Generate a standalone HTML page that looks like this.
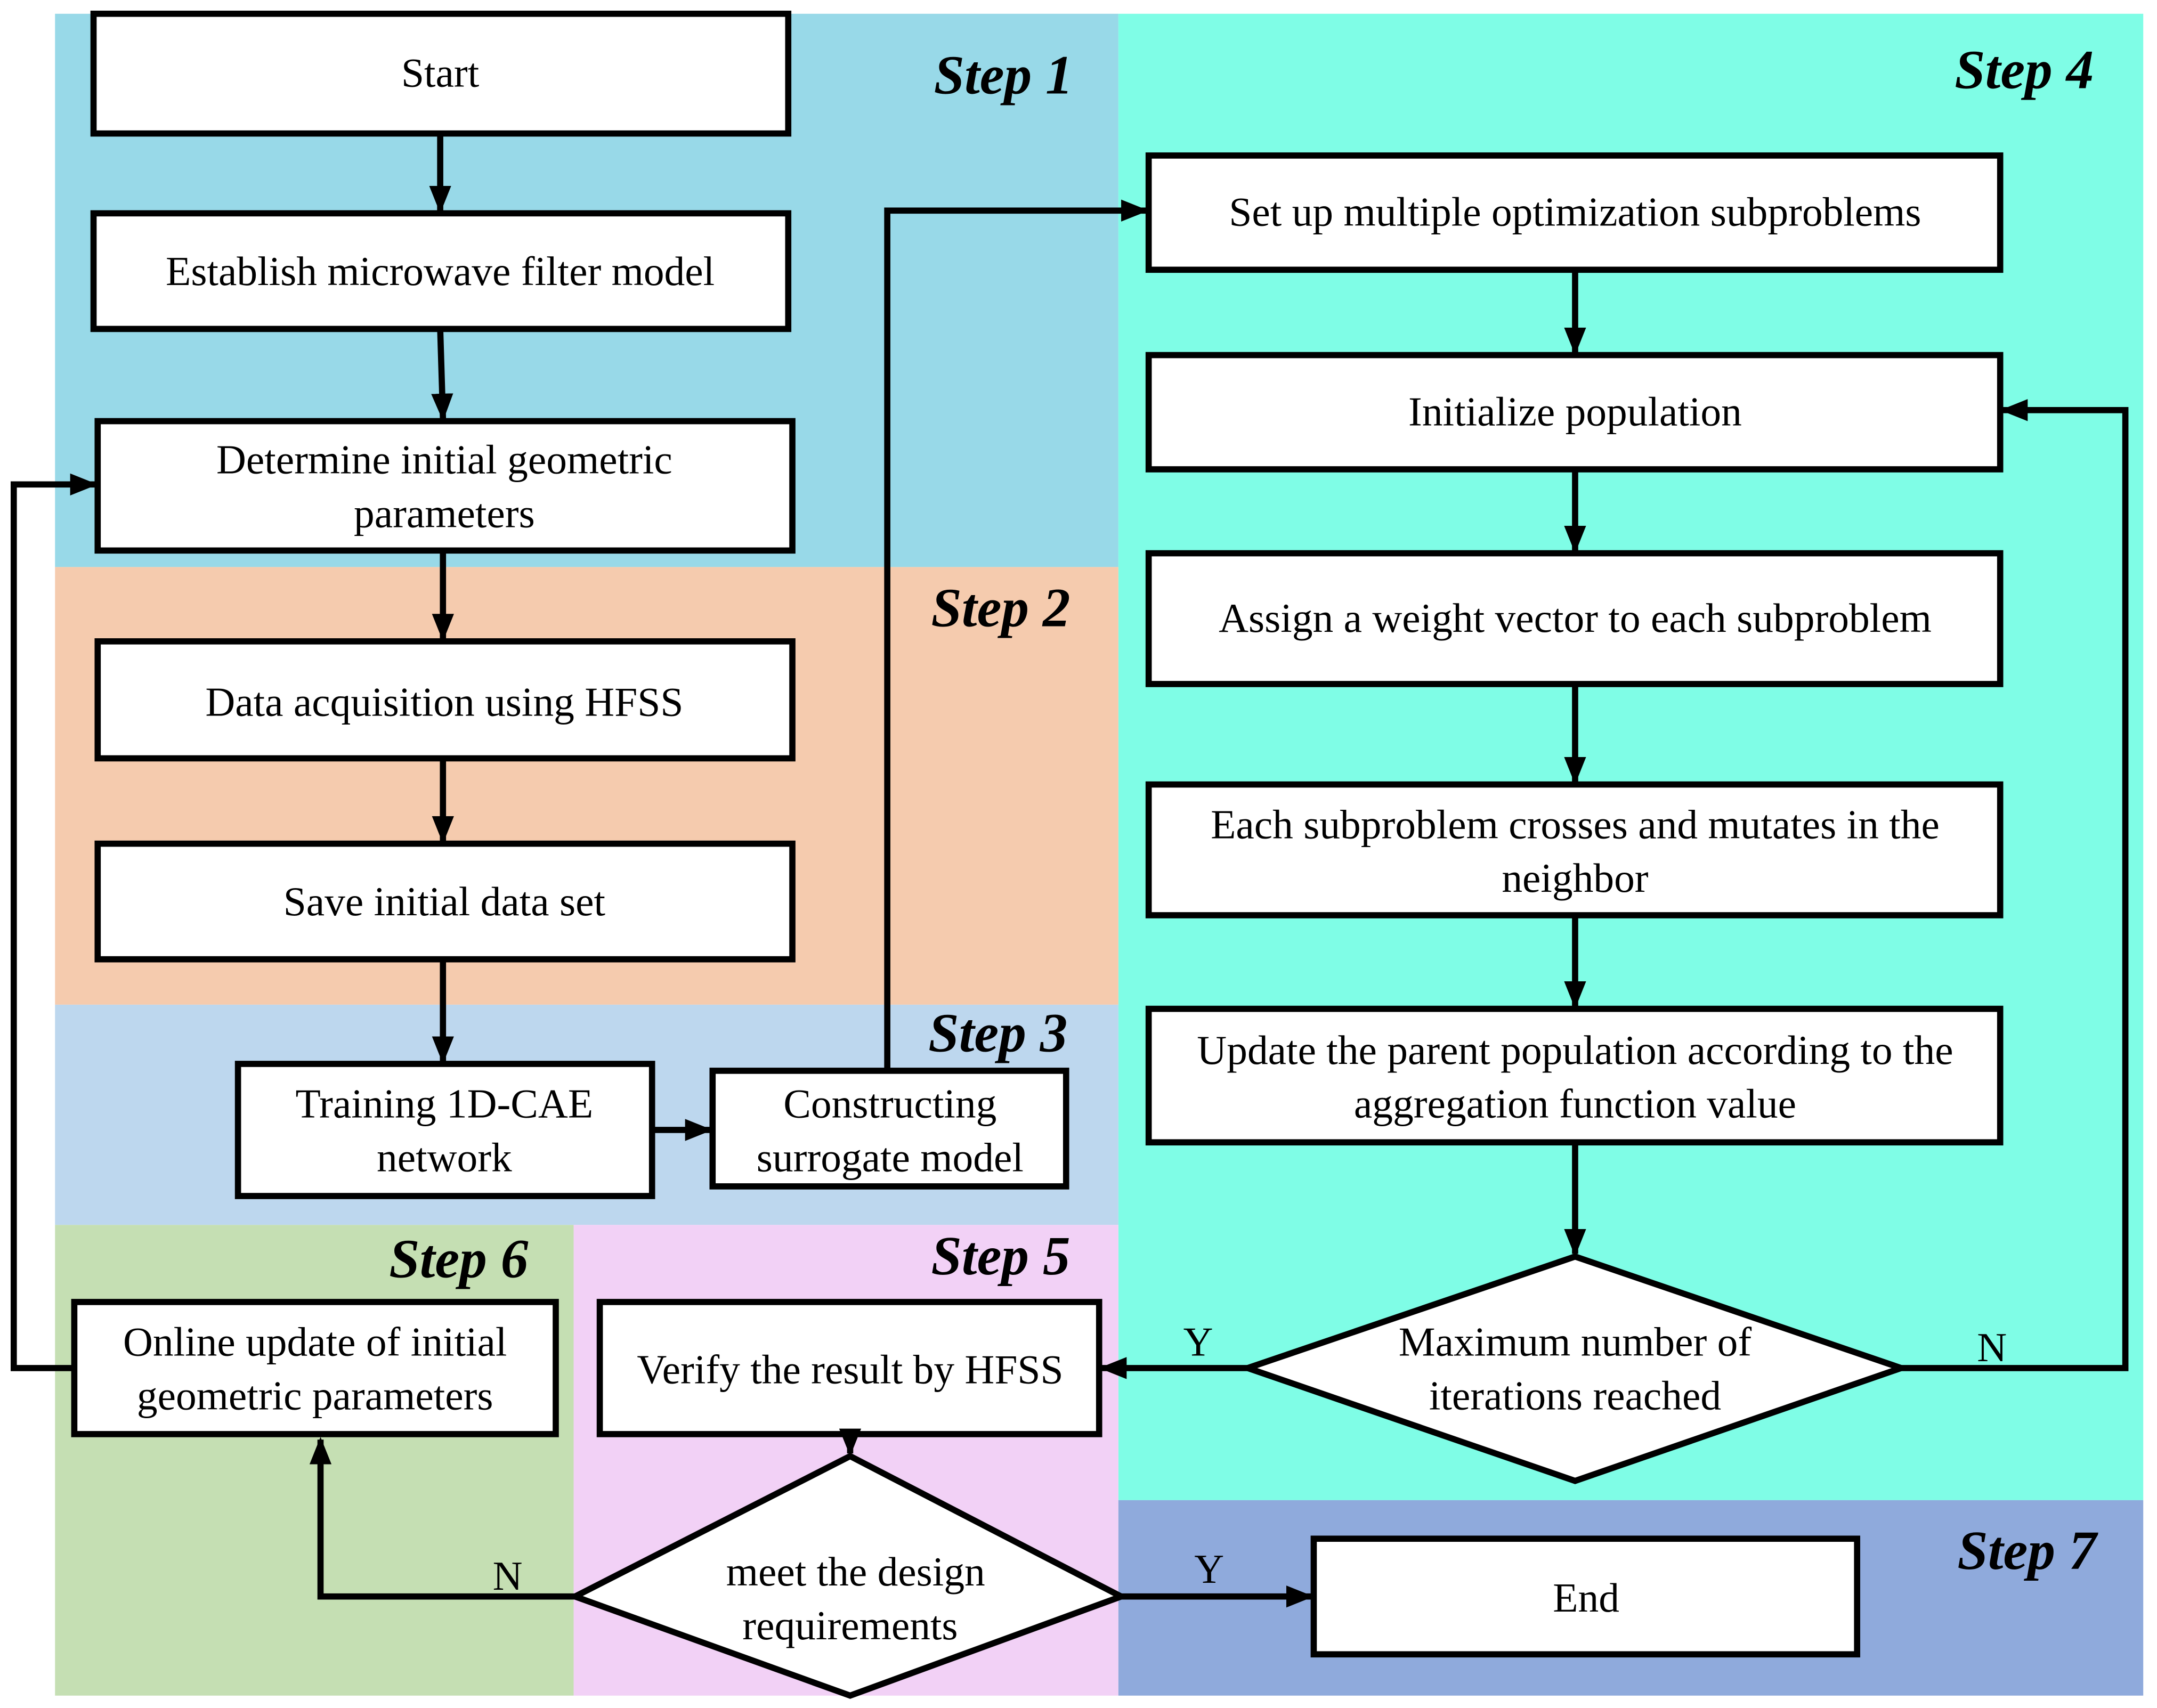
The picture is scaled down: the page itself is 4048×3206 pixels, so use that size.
<!DOCTYPE html>
<html><head><style>html,body{margin:0;padding:0;background:#fff}svg{display:block}text{font-family:"Liberation Serif","Times New Roman",serif}</style></head><body>
<svg xmlns="http://www.w3.org/2000/svg" width="4048" height="3206" viewBox="0 0 1568 1241" preserveAspectRatio="none">
<defs><marker id="a" viewBox="0 0 20 16" refX="18" refY="8" markerWidth="20" markerHeight="16" orient="auto" markerUnits="userSpaceOnUse"><path d="M0,0 L20,8 L0,16 Z" fill="#000"/></marker></defs>
<rect x="40" y="10" width="773" height="402" fill="#98d9e8"/>
<rect x="813" y="10" width="745" height="1080" fill="#7ffde6"/>
<rect x="40" y="412" width="773" height="318" fill="#f5cbae"/>
<rect x="40" y="730" width="773" height="160" fill="#bdd7ee"/>
<rect x="40" y="890" width="377" height="342" fill="#c5dfb3"/>
<rect x="417" y="890" width="396" height="342" fill="#f2d1f6"/>
<rect x="813" y="1090" width="745" height="142" fill="#8faadc"/>
<g font-weight="bold" font-style="italic" font-size="40">
<text x="780" y="68" text-anchor="end">Step 1</text>
<text x="1522" y="64" text-anchor="end">Step 4</text>
<text x="778" y="455" text-anchor="end">Step 2</text>
<text x="776" y="764" text-anchor="end">Step 3</text>
<text x="384" y="928" text-anchor="end">Step 6</text>
<text x="778" y="926" text-anchor="end">Step 5</text>
<text x="1524" y="1140" text-anchor="end">Step 7</text>
</g>
<g fill="#fff" stroke="#000" stroke-width="4.5">
<rect x="68" y="10" width="505" height="87"/>
<rect x="68" y="155" width="505" height="84"/>
<rect x="71" y="306" width="505" height="94"/>
<rect x="71" y="466" width="505" height="85"/>
<rect x="71" y="613" width="505" height="84"/>
<rect x="173" y="773" width="301" height="96"/>
<rect x="518" y="778" width="257" height="84"/>
<rect x="54" y="946" width="350" height="96"/>
<rect x="436" y="946" width="363" height="96"/>
<rect x="835" y="113" width="619" height="83"/>
<rect x="835" y="258" width="619" height="83"/>
<rect x="835" y="402" width="619" height="95"/>
<rect x="835" y="570" width="619" height="95"/>
<rect x="835" y="733" width="619" height="97"/>
<rect x="955" y="1118" width="395" height="84"/>
<polygon points="907,994 1145,913 1382,994 1145,1076"/>
<polygon points="418,1160 618,1058 815,1160 618,1232"/>
</g>
<g fill="none" stroke="#000" stroke-width="4.5" marker-end="url(#a)">
<line x1="320" y1="97" x2="320" y2="153"/>
<line x1="320" y1="239" x2="322" y2="304"/>
<line x1="322" y1="400" x2="322" y2="464"/>
<line x1="322" y1="551" x2="322" y2="611"/>
<line x1="322" y1="697" x2="322" y2="771"/>
<line x1="474" y1="821" x2="516" y2="821"/>
<polyline points="645,778 645,153 833,153"/>
<line x1="1145" y1="196" x2="1145" y2="256"/>
<line x1="1145" y1="341" x2="1145" y2="400"/>
<line x1="1145" y1="497" x2="1145" y2="568"/>
<line x1="1145" y1="665" x2="1145" y2="731"/>
<line x1="1145" y1="830" x2="1145" y2="911"/>
<line x1="907" y1="994" x2="801" y2="994"/>
<polyline points="1382,994 1545,994 1545,298 1456,298"/>
<line x1="618" y1="1042" x2="618" y2="1056"/>
<polyline points="418,1160 233,1160 233,1046"/>
<line x1="815" y1="1160" x2="953" y2="1160"/>
<polyline points="54,994 10,994 10,352 69,352"/>
</g>
<g font-size="30" text-anchor="middle">
<text x="320" y="63">Start</text>
<text x="320" y="207">Establish microwave filter model</text>
<text x="323" y="344">Determine initial geometric</text><text x="323" y="383">parameters</text>
<text x="323" y="520">Data acquisition using HFSS</text>
<text x="323" y="665">Save initial data set</text>
<text x="323" y="812">Training 1D-CAE</text><text x="323" y="851">network</text>
<text x="647" y="812">Constructing</text><text x="647" y="851">surrogate model</text>
<text x="229" y="985">Online update of initial</text><text x="229" y="1024">geometric parameters</text>
<text x="618" y="1005">Verify the  result by HFSS</text>
<text x="1145" y="164">Set up multiple optimization subproblems</text>
<text x="1145" y="309">Initialize population</text>
<text x="1145" y="459">Assign a weight vector to each subproblem</text>
<text x="1145" y="609">Each subproblem crosses and mutates in the</text><text x="1145" y="648">neighbor</text>
<text x="1145" y="773">Update the parent population according to the</text><text x="1145" y="812">aggregation function value</text>
<text x="1145" y="985">Maximum number of</text><text x="1145" y="1024">iterations reached</text>
<text x="622" y="1152">meet the  design</text><text x="618" y="1191">requirements</text>
<text x="1153" y="1171">End</text>
<text x="871" y="985">Y</text>
<text x="1448" y="989">N</text>
<text x="879" y="1150">Y</text>
<text x="369" y="1155">N</text>
</g>
</svg>
</body></html>
